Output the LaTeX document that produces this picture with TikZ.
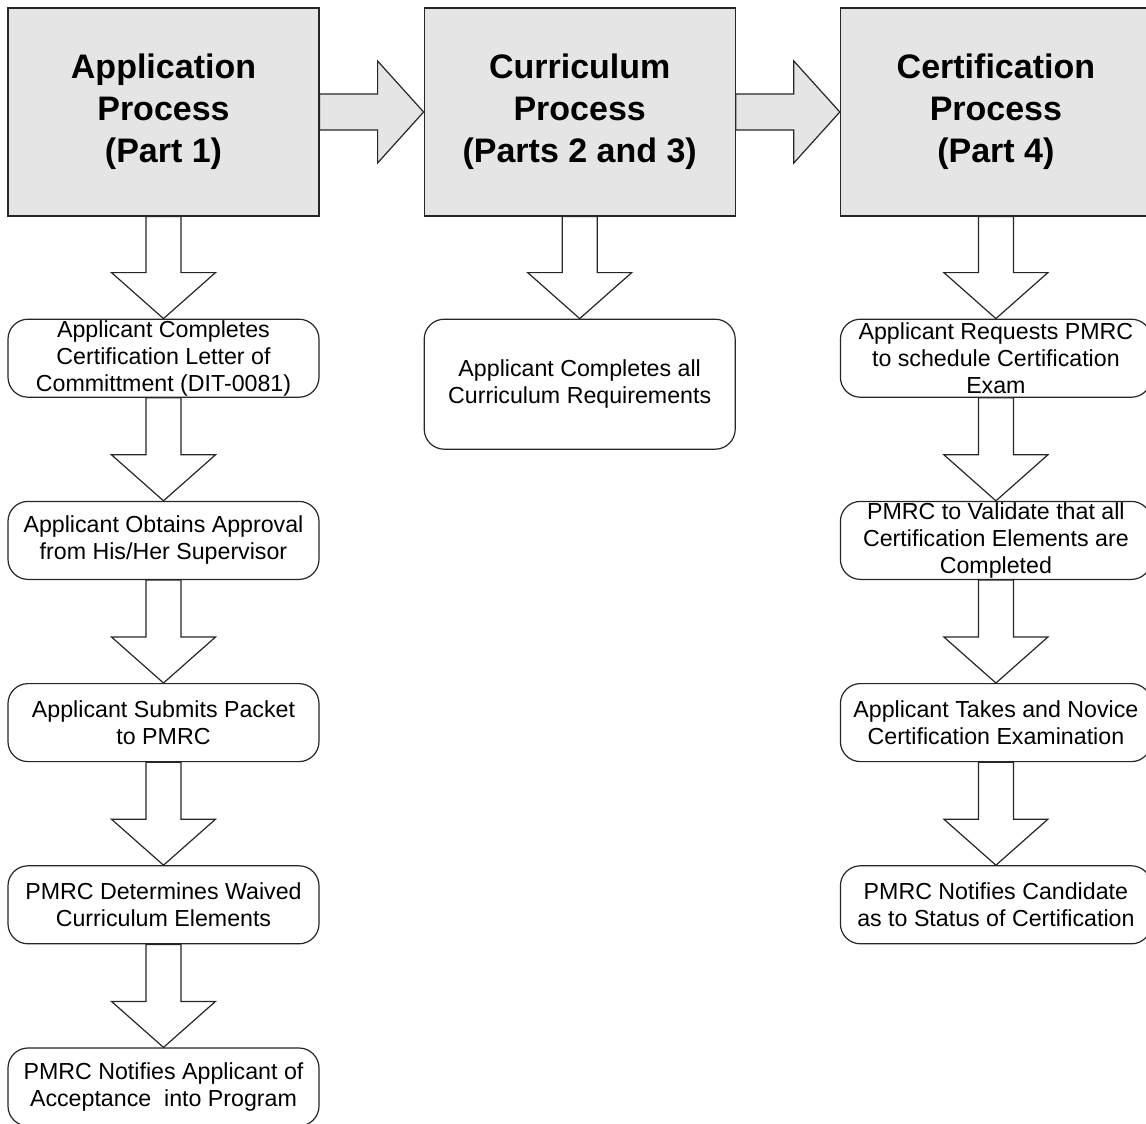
\documentclass[tikz,border=0pt]{standalone}
\usepackage{fontspec}
\setmainfont{Liberation Sans}
\usetikzlibrary{positioning,calc}

\newcommand{\flowdown}[2]{%
  \draw[down arrow] ($(#1.south -| #2.north)+(-17.5,0)$) -- ($(#2.north)+(-17.5,-46)$)
    -- ($(#2.north)+(-52,-46)$) -- (#2.north) -- ($(#2.north)+(52,-46)$)
    -- ($(#2.north)+(17.5,-46)$) -- ($(#1.south -| #2.north)+(17.5,0)$) -- cycle;}
\newcommand{\flowright}[2]{%
  \draw[side arrow] ($(#1.east)+(0,-18)$) -- ($(#2.west)+(-46,-18)$)
    -- ($(#2.west)+(-46,-51)$) -- (#2.west) -- ($(#2.west)+(-46,51)$)
    -- ($(#2.west)+(-46,18)$) -- ($(#1.east)+(0,18)$) -- cycle;}

\begin{document}
\begin{tikzpicture}[x=0.5pt,y=-0.5pt,line width=0.6pt,
    phase node/.style={draw=black!85,fill=black!10,inner sep=0pt,align=center,
      minimum width=155.5pt,minimum height=104pt,
      font=\fontsize{17}{21}\selectfont\bfseries},
    step node/.style={draw=black!85,fill=white,rounded corners=10pt,inner sep=0pt,
      align=center,minimum width=155.5pt,minimum height=39pt,
      font=\fontsize{11.6}{13.5}\selectfont},
    down arrow/.style={draw=black!85,fill=white,line join=miter},
    side arrow/.style={draw=black!85,fill=black!10,line join=miter}]
    \path[use as bounding box] (0,0) rectangle (1146,1124);
    \clip (0,0) rectangle (1146,1124);

    \node[phase node] (app) at (163.5,112) {Application\\Process\\(Part 1)};
    \node[phase node] (cur) [right=52pt of app] {Curriculum\\Process\\(Parts 2 and 3)};
    \node[phase node] (cert) [right=52pt of cur] {Certification\\Process\\(Part 4)};

    \node[step node] (app1) [below=51pt of app] {Applicant Completes\\Certification Letter of\\Committment (DIT-0081)};
    \node[step node] (app2) [below=51.5pt of app1] {Applicant Obtains Approval\\from His/Her Supervisor};
    \node[step node] (app3) [below=51.5pt of app2] {Applicant Submits Packet\\to PMRC};
    \node[step node] (app4) [below=51.5pt of app3] {PMRC Determines Waived\\Curriculum Elements};
    \node[step node] (app5) [below=51.5pt of app4] {PMRC Notifies Applicant of\\Acceptance\ \ into Program};

    \node[step node,minimum height=65pt] (cur1) [below=51pt of cur] {Applicant Completes all\\Curriculum Requirements};

    \node[step node] (cert1) [below=51pt of cert] {Applicant Requests PMRC\\to schedule Certification\\Exam};
    \node[step node] (cert2) [below=51.5pt of cert1] {PMRC to Validate that all\\Certification Elements are\\Completed};
    \node[step node] (cert3) [below=51.5pt of cert2] {Applicant Takes and Novice\\Certification Examination};
    \node[step node] (cert4) [below=51.5pt of cert3] {PMRC Notifies Candidate\\as to Status of Certification};

    \flowright{app}{cur}
    \flowright{cur}{cert}
    \flowdown{app}{app1}
    \flowdown{app1}{app2}
    \flowdown{app2}{app3}
    \flowdown{app3}{app4}
    \flowdown{app4}{app5}
    \flowdown{cur}{cur1}
    \flowdown{cert}{cert1}
    \flowdown{cert1}{cert2}
    \flowdown{cert2}{cert3}
    \flowdown{cert3}{cert4}
\end{tikzpicture}
\end{document}
